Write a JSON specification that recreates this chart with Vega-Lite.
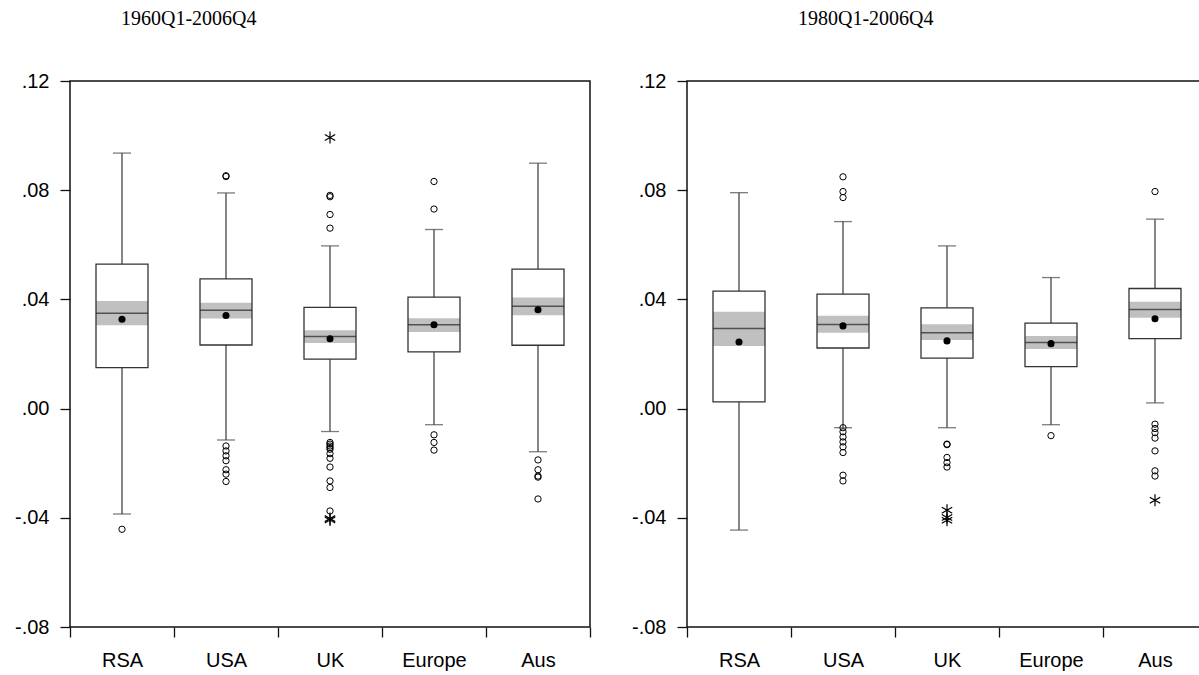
{
  "$schema": "https://vega.github.io/schema/vega-lite/v6.json",
  "background": "white",
  "padding": {"left": 13, "top": 8, "right": 5, "bottom": 5},
  "config": {
    "view": {"stroke": "#111", "strokeWidth": 1.5},
    "font": "Liberation Sans",
    "axis": {"grid": false, "domain": false, "tickColor": "#111", "tickWidth": 1.3, "labelColor": "#000", "labelFont": "Liberation Sans", "labelFontSize": 20, "title": null},
    "title": {"font": "Liberation Serif", "fontSize": 20, "fontWeight": "normal", "color": "#000", "anchor": "start", "frame": "group", "baseline": "alphabetic"}
  },
  "spacing": 38,
  "datasets": {
    "all": [
      {"period": "A", "type": "box", "region": "RSA", "wlo": -0.0386, "q1": 0.0150, "med": 0.0349, "q3": 0.0529, "whi": 0.0936, "cilo": 0.0305, "cihi": 0.0394, "mean": 0.0327},
      {"period": "A", "type": "box", "region": "USA", "wlo": -0.0115, "q1": 0.0233, "med": 0.0360, "q3": 0.0475, "whi": 0.0790, "cilo": 0.0330, "cihi": 0.0388, "mean": 0.0341},
      {"period": "A", "type": "box", "region": "UK", "wlo": -0.0084, "q1": 0.0181, "med": 0.0264, "q3": 0.0371, "whi": 0.0596, "cilo": 0.0240, "cihi": 0.0287, "mean": 0.0256},
      {"period": "A", "type": "box", "region": "Europe", "wlo": -0.0059, "q1": 0.0208, "med": 0.0307, "q3": 0.0408, "whi": 0.0656, "cilo": 0.0281, "cihi": 0.0331, "mean": 0.0307},
      {"period": "A", "type": "box", "region": "Aus", "wlo": -0.0158, "q1": 0.0232, "med": 0.0375, "q3": 0.0511, "whi": 0.0899, "cilo": 0.0342, "cihi": 0.0407, "mean": 0.0362},
      {"period": "A", "type": "o", "region": "RSA", "v": -0.0442},
      {"period": "A", "type": "o", "region": "USA", "v": 0.0850},
      {"period": "A", "type": "o", "region": "USA", "v": 0.0853},
      {"period": "A", "type": "o", "region": "USA", "v": -0.0137},
      {"period": "A", "type": "o", "region": "USA", "v": -0.0155},
      {"period": "A", "type": "o", "region": "USA", "v": -0.0173},
      {"period": "A", "type": "o", "region": "USA", "v": -0.0191},
      {"period": "A", "type": "o", "region": "USA", "v": -0.0224},
      {"period": "A", "type": "o", "region": "USA", "v": -0.0240},
      {"period": "A", "type": "o", "region": "USA", "v": -0.0267},
      {"period": "A", "type": "s", "region": "UK", "v": 0.0993},
      {"period": "A", "type": "o", "region": "UK", "v": 0.0781},
      {"period": "A", "type": "o", "region": "UK", "v": 0.0776},
      {"period": "A", "type": "o", "region": "UK", "v": 0.0711},
      {"period": "A", "type": "o", "region": "UK", "v": 0.0661},
      {"period": "A", "type": "o", "region": "UK", "v": -0.0124},
      {"period": "A", "type": "o", "region": "UK", "v": -0.0130},
      {"period": "A", "type": "o", "region": "UK", "v": -0.0137},
      {"period": "A", "type": "o", "region": "UK", "v": -0.0143},
      {"period": "A", "type": "o", "region": "UK", "v": -0.0149},
      {"period": "A", "type": "o", "region": "UK", "v": -0.0165},
      {"period": "A", "type": "o", "region": "UK", "v": -0.0182},
      {"period": "A", "type": "o", "region": "UK", "v": -0.0214},
      {"period": "A", "type": "o", "region": "UK", "v": -0.0265},
      {"period": "A", "type": "o", "region": "UK", "v": -0.0289},
      {"period": "A", "type": "o", "region": "UK", "v": -0.0375},
      {"period": "A", "type": "s", "region": "UK", "v": -0.0403},
      {"period": "A", "type": "s", "region": "UK", "v": -0.0408},
      {"period": "A", "type": "o", "region": "Europe", "v": 0.0832},
      {"period": "A", "type": "o", "region": "Europe", "v": 0.0731},
      {"period": "A", "type": "o", "region": "Europe", "v": -0.0096},
      {"period": "A", "type": "o", "region": "Europe", "v": -0.0124},
      {"period": "A", "type": "o", "region": "Europe", "v": -0.0152},
      {"period": "A", "type": "o", "region": "Aus", "v": -0.0188},
      {"period": "A", "type": "o", "region": "Aus", "v": -0.0224},
      {"period": "A", "type": "o", "region": "Aus", "v": -0.0247},
      {"period": "A", "type": "o", "region": "Aus", "v": -0.0251},
      {"period": "A", "type": "o", "region": "Aus", "v": -0.0331},
      {"period": "B", "type": "box", "region": "RSA", "wlo": -0.0445, "q1": 0.0025, "med": 0.0293, "q3": 0.0430, "whi": 0.0791, "cilo": 0.0229, "cihi": 0.0355, "mean": 0.0244},
      {"period": "B", "type": "box", "region": "USA", "wlo": -0.0070, "q1": 0.0222, "med": 0.0308, "q3": 0.0419, "whi": 0.0685, "cilo": 0.0278, "cihi": 0.0340, "mean": 0.0303},
      {"period": "B", "type": "box", "region": "UK", "wlo": -0.0070, "q1": 0.0185, "med": 0.0278, "q3": 0.0369, "whi": 0.0596, "cilo": 0.0251, "cihi": 0.0309, "mean": 0.0248},
      {"period": "B", "type": "box", "region": "Europe", "wlo": -0.0059, "q1": 0.0154, "med": 0.0242, "q3": 0.0313, "whi": 0.0480, "cilo": 0.0218, "cihi": 0.0266, "mean": 0.0238},
      {"period": "B", "type": "box", "region": "Aus", "wlo": 0.0021, "q1": 0.0256, "med": 0.0363, "q3": 0.0440, "whi": 0.0694, "cilo": 0.0333, "cihi": 0.0391, "mean": 0.0329},
      {"period": "B", "type": "o", "region": "USA", "v": 0.0849},
      {"period": "B", "type": "o", "region": "USA", "v": 0.0795},
      {"period": "B", "type": "o", "region": "USA", "v": 0.0773},
      {"period": "B", "type": "o", "region": "USA", "v": -0.0070},
      {"period": "B", "type": "o", "region": "USA", "v": -0.0085},
      {"period": "B", "type": "o", "region": "USA", "v": -0.0104},
      {"period": "B", "type": "o", "region": "USA", "v": -0.0122},
      {"period": "B", "type": "o", "region": "USA", "v": -0.0140},
      {"period": "B", "type": "o", "region": "USA", "v": -0.0161},
      {"period": "B", "type": "o", "region": "USA", "v": -0.0244},
      {"period": "B", "type": "o", "region": "USA", "v": -0.0265},
      {"period": "B", "type": "o", "region": "UK", "v": -0.0130},
      {"period": "B", "type": "o", "region": "UK", "v": -0.0132},
      {"period": "B", "type": "o", "region": "UK", "v": -0.0179},
      {"period": "B", "type": "o", "region": "UK", "v": -0.0198},
      {"period": "B", "type": "o", "region": "UK", "v": -0.0214},
      {"period": "B", "type": "s", "region": "UK", "v": -0.0372},
      {"period": "B", "type": "s", "region": "UK", "v": -0.0399},
      {"period": "B", "type": "s", "region": "UK", "v": -0.0409},
      {"period": "B", "type": "o", "region": "Europe", "v": -0.0099},
      {"period": "B", "type": "o", "region": "Aus", "v": 0.0795},
      {"period": "B", "type": "o", "region": "Aus", "v": -0.0057},
      {"period": "B", "type": "o", "region": "Aus", "v": -0.0073},
      {"period": "B", "type": "o", "region": "Aus", "v": -0.0088},
      {"period": "B", "type": "o", "region": "Aus", "v": -0.0108},
      {"period": "B", "type": "o", "region": "Aus", "v": -0.0155},
      {"period": "B", "type": "o", "region": "Aus", "v": -0.0228},
      {"period": "B", "type": "o", "region": "Aus", "v": -0.0247},
      {"period": "B", "type": "s", "region": "Aus", "v": -0.0336}
    ]
  },
  "hconcat": [
    {
      "width": 520,
      "height": 546,
      "title": {"text": "1960Q1-2006Q4", "dx": 51, "offset": 42},
      "data": {"name": "all"},
      "transform": [{"filter": "datum.period == 'A'"}],
      "encoding": {
        "x": {"field": "region", "type": "nominal", "sort": ["RSA", "USA", "UK", "Europe", "Aus"], "scale": {"paddingInner": 0, "paddingOuter": 0}, "axis": {"tickBand": "extent", "labelAngle": 0, "tickSize": 10, "labelPadding": 13}}
      },
      "layer": [
        {"transform": [{"filter": "datum.type == 'box'"}], "mark": {"type": "rule", "color": "#444", "strokeWidth": 1.3},
         "encoding": {"y": {"field": "wlo", "type": "quantitative", "scale": {"domain": [-0.08, 0.12], "nice": false, "zero": false}, "axis": {"values": [-0.08, -0.04, 0, 0.04, 0.08, 0.12], "labelExpr": "replace(replace(format(datum.value, '.2f'), '\u2212', '-'), '0.', '.')", "tickSize": 10, "labelPadding": 11}}, "y2": {"field": "whi"}}},
        {"transform": [{"filter": "datum.type == 'box'"}], "mark": {"type": "tick", "color": "#444", "size": 18, "thickness": 1.3},
         "encoding": {"y": {"field": "whi", "type": "quantitative", "scale": {"domain": [-0.08, 0.12], "nice": false, "zero": false}}}},
        {"transform": [{"filter": "datum.type == 'box'"}], "mark": {"type": "tick", "color": "#444", "size": 18, "thickness": 1.3},
         "encoding": {"y": {"field": "wlo", "type": "quantitative", "scale": {"domain": [-0.08, 0.12], "nice": false, "zero": false}}}},
        {"transform": [{"filter": "datum.type == 'box'"}], "mark": {"type": "bar", "color": "white", "width": 52},
         "encoding": {"y": {"field": "q1", "type": "quantitative", "scale": {"domain": [-0.08, 0.12], "nice": false, "zero": false}}, "y2": {"field": "q3"}}},
        {"transform": [{"filter": "datum.type == 'box'"}], "mark": {"type": "bar", "color": "#c0c0c0", "width": 52},
         "encoding": {"y": {"field": "cilo", "type": "quantitative", "scale": {"domain": [-0.08, 0.12], "nice": false, "zero": false}}, "y2": {"field": "cihi"}}},
        {"transform": [{"filter": "datum.type == 'box'"}], "mark": {"type": "bar", "fill": "white", "fillOpacity": 0, "stroke": "#333", "strokeWidth": 1.3, "width": 52},
         "encoding": {"y": {"field": "q1", "type": "quantitative", "scale": {"domain": [-0.08, 0.12], "nice": false, "zero": false}}, "y2": {"field": "q3"}}},
        {"transform": [{"filter": "datum.type == 'box'"}], "mark": {"type": "tick", "color": "#222", "size": 52, "thickness": 1.5},
         "encoding": {"y": {"field": "med", "type": "quantitative", "scale": {"domain": [-0.08, 0.12], "nice": false, "zero": false}}}},
        {"transform": [{"filter": "datum.type == 'box'"}], "mark": {"type": "point", "shape": "circle", "filled": true, "color": "#000", "size": 50, "opacity": 1},
         "encoding": {"y": {"field": "mean", "type": "quantitative", "scale": {"domain": [-0.08, 0.12], "nice": false, "zero": false}}}},
        {"transform": [{"filter": "datum.type == 'o'"}], "mark": {"type": "point", "shape": "circle", "filled": false, "stroke": "#000", "strokeWidth": 1, "size": 40, "opacity": 1},
         "encoding": {"y": {"field": "v", "type": "quantitative", "scale": {"domain": [-0.08, 0.12], "nice": false, "zero": false}}}},
        {"transform": [{"filter": "datum.type == 's'"}], "mark": {"type": "point", "shape": "M0,-1L0,1M-0.87,-0.5L0.87,0.5M-0.87,0.5L0.87,-0.5", "filled": false, "stroke": "#000", "strokeWidth": 1.2, "size": 144, "opacity": 1},
         "encoding": {"y": {"field": "v", "type": "quantitative", "scale": {"domain": [-0.08, 0.12], "nice": false, "zero": false}}}}
      ]
    },
    {
      "width": 520,
      "height": 546,
      "title": {"text": "1980Q1-2006Q4", "dx": 111, "offset": 42},
      "data": {"name": "all"},
      "transform": [{"filter": "datum.period == 'B'"}],
      "encoding": {
        "x": {"field": "region", "type": "nominal", "sort": ["RSA", "USA", "UK", "Europe", "Aus"], "scale": {"paddingInner": 0, "paddingOuter": 0}, "axis": {"tickBand": "extent", "labelAngle": 0, "tickSize": 10, "labelPadding": 13}}
      },
      "layer": [
        {"transform": [{"filter": "datum.type == 'box'"}], "mark": {"type": "rule", "color": "#444", "strokeWidth": 1.3},
         "encoding": {"y": {"field": "wlo", "type": "quantitative", "scale": {"domain": [-0.08, 0.12], "nice": false, "zero": false}, "axis": {"values": [-0.08, -0.04, 0, 0.04, 0.08, 0.12], "labelExpr": "replace(replace(format(datum.value, '.2f'), '\u2212', '-'), '0.', '.')", "tickSize": 10, "labelPadding": 11}}, "y2": {"field": "whi"}}},
        {"transform": [{"filter": "datum.type == 'box'"}], "mark": {"type": "tick", "color": "#444", "size": 18, "thickness": 1.3},
         "encoding": {"y": {"field": "whi", "type": "quantitative", "scale": {"domain": [-0.08, 0.12], "nice": false, "zero": false}}}},
        {"transform": [{"filter": "datum.type == 'box'"}], "mark": {"type": "tick", "color": "#444", "size": 18, "thickness": 1.3},
         "encoding": {"y": {"field": "wlo", "type": "quantitative", "scale": {"domain": [-0.08, 0.12], "nice": false, "zero": false}}}},
        {"transform": [{"filter": "datum.type == 'box'"}], "mark": {"type": "bar", "color": "white", "width": 52},
         "encoding": {"y": {"field": "q1", "type": "quantitative", "scale": {"domain": [-0.08, 0.12], "nice": false, "zero": false}}, "y2": {"field": "q3"}}},
        {"transform": [{"filter": "datum.type == 'box'"}], "mark": {"type": "bar", "color": "#c0c0c0", "width": 52},
         "encoding": {"y": {"field": "cilo", "type": "quantitative", "scale": {"domain": [-0.08, 0.12], "nice": false, "zero": false}}, "y2": {"field": "cihi"}}},
        {"transform": [{"filter": "datum.type == 'box'"}], "mark": {"type": "bar", "fill": "white", "fillOpacity": 0, "stroke": "#333", "strokeWidth": 1.3, "width": 52},
         "encoding": {"y": {"field": "q1", "type": "quantitative", "scale": {"domain": [-0.08, 0.12], "nice": false, "zero": false}}, "y2": {"field": "q3"}}},
        {"transform": [{"filter": "datum.type == 'box'"}], "mark": {"type": "tick", "color": "#222", "size": 52, "thickness": 1.5},
         "encoding": {"y": {"field": "med", "type": "quantitative", "scale": {"domain": [-0.08, 0.12], "nice": false, "zero": false}}}},
        {"transform": [{"filter": "datum.type == 'box'"}], "mark": {"type": "point", "shape": "circle", "filled": true, "color": "#000", "size": 50, "opacity": 1},
         "encoding": {"y": {"field": "mean", "type": "quantitative", "scale": {"domain": [-0.08, 0.12], "nice": false, "zero": false}}}},
        {"transform": [{"filter": "datum.type == 'o'"}], "mark": {"type": "point", "shape": "circle", "filled": false, "stroke": "#000", "strokeWidth": 1, "size": 40, "opacity": 1},
         "encoding": {"y": {"field": "v", "type": "quantitative", "scale": {"domain": [-0.08, 0.12], "nice": false, "zero": false}}}},
        {"transform": [{"filter": "datum.type == 's'"}], "mark": {"type": "point", "shape": "M0,-1L0,1M-0.87,-0.5L0.87,0.5M-0.87,0.5L0.87,-0.5", "filled": false, "stroke": "#000", "strokeWidth": 1.2, "size": 144, "opacity": 1},
         "encoding": {"y": {"field": "v", "type": "quantitative", "scale": {"domain": [-0.08, 0.12], "nice": false, "zero": false}}}}
      ]
    }
  ]
}
